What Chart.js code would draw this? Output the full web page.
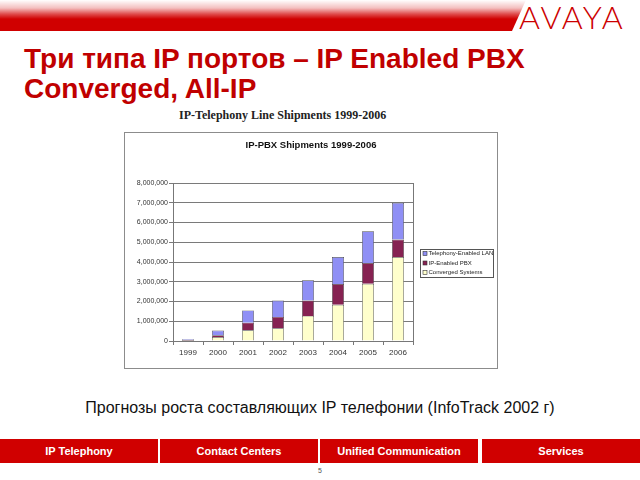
<!DOCTYPE html>
<html>
<head>
<meta charset="utf-8">
<script src="https://cdn.jsdelivr.net/npm/chart.js@4.4.0/dist/chart.umd.min.js"></script>
<style>
  html, body { margin: 0; padding: 0; background: #fff; }
  body { width: 640px; height: 480px; position: relative; overflow: hidden; font-family: "Liberation Sans", Arial, sans-serif; }
  .abs { position: absolute; white-space: nowrap; }
  #banner { left: 0; top: 0; width: 530px; height: 31px;
    background: linear-gradient(to bottom, rgba(210,0,0,0) 0px, rgba(210,0,0,0.25) 8px, rgba(210,0,0,0.7) 14px, #d00000 19px, #d00000 31px);
    clip-path: polygon(0 0, 526px 0, 512px 31px, 0 31px); }
  #logo { left: 519px; top: 1px; font-family: Lato, "Liberation Sans", sans-serif; font-weight: 300; font-size: 32px; line-height: 32px; color: #cc0000; letter-spacing: 2px; }
  #title { left: 24px; top: 44px; font-size: 28px; line-height: 30px; font-weight: bold; color: #c00000; }
  #outerTitle { left: 179px; top: 109px; font-family: "Liberation Serif", "Times New Roman", serif; font-weight: bold; font-size: 12px; line-height: 12px; color: #222; }
  #chartBox { left: 124px; top: 132px; width: 374px; height: 237px; box-sizing: border-box; border: 1px solid #8c8c8c; }
  #cv { position: absolute; left: 124px; top: 132px; }
  #caption { left: 0; width: 640px; text-align: center; top: 400px; font-size: 16px; line-height: 16px; color: #111; }
  .seg { top: 439px; height: 24px; width: 158px; background: #d00000; color: #fff; font-weight: bold; font-size: 11px; line-height: 24px; text-align: center; }
  #pnum { left: 0; width: 640px; text-align: center; top: 467px; font-size: 7px; line-height: 8px; color: #555; }
</style>
</head>
<body>
<div id="banner" class="abs"></div>
<div id="logo" class="abs">AVAYA</div>
<div id="title" class="abs">Три типа IP портов – IP Enabled PBX<br>Converged, All-IP</div>
<div id="outerTitle" class="abs">IP-Telephony Line Shipments 1999-2006</div>
<div id="chartBox" class="abs"></div>
<canvas id="cv" width="374" height="237"></canvas>
<div id="caption" class="abs">Прогнозы роста составляющих IP телефонии (InfoTrack 2002 г)</div>
<div class="abs seg" style="left:0px">IP Telephony</div>
<div class="abs seg" style="left:160px">Contact Centers</div>
<div class="abs seg" style="left:320px">Unified Communication</div>
<div class="abs seg" style="left:482px">Services</div>
<div id="pnum" class="abs">5</div>
<script>
// ---- data ----
const years = ['1999', '2000', '2001', '2002', '2003', '2004', '2005', '2006'];
const convergedSystems = [10000, 200000, 540000, 640000, 1270000, 1830000, 2900000, 4250000];
const ipEnabledPbx = [40000, 90000, 390000, 580000, 780000, 1050000, 1050000, 890000];
const telephonyEnabledLan = [40000, 240000, 620000, 830000, 1020000, 1370000, 1610000, 1860000];
const seriesLabels = ['Converged Systems', 'IP-Enabled PBX', 'Telephony-Enabled LAN'];
const seriesColors = ['#ffffcc', '#862252', '#8f8ff5'];
const yMax = 8000000;
const yStep = 1000000;
const chartTitle = 'IP-PBX Shipments 1999-2006';

const legendBoxPlugin = {
  id: 'legendBox',
  afterLayout(chart) {
    // center the title over the whole chart image, not just the plot area
    const tb = chart.titleBlock;
    if (tb) { tb.left = 0; tb.right = chart.width; tb.width = chart.width; }
  },
  afterDraw(chart) {
    const ctx = chart.ctx;
    const ds = chart.data.datasets;
    const x = 296.5, y = 117.5, w = 73, h = 28;
    ctx.save();
    ctx.strokeStyle = '#555';
    ctx.lineWidth = 1;
    ctx.strokeRect(x, y, w, h);
    ctx.font = '6px "Liberation Sans", Arial, sans-serif';
    ctx.textBaseline = 'middle';
    const rows = ds.slice().reverse();
    rows.forEach((d, i) => {
      const cy = 121.5 + i * 9.5;
      ctx.fillStyle = d.backgroundColor;
      ctx.fillRect(299, cy - 2, 4, 4);
      ctx.strokeStyle = '#333';
      ctx.lineWidth = 0.6;
      ctx.strokeRect(299, cy - 2, 4, 4);
      ctx.fillStyle = '#222';
      ctx.fillText(d.label, 304.5, cy);
    });
    // right border of plot area
    const a = chart.chartArea;
    ctx.strokeStyle = '#777';
    ctx.lineWidth = 1;
    ctx.beginPath();
    ctx.moveTo(Math.round(a.right) + 0.5, a.top);
    ctx.lineTo(Math.round(a.right) + 0.5, a.bottom);
    ctx.stroke();
    ctx.restore();
  }
};

new Chart(document.getElementById('cv'), {
  type: 'bar',
  data: {
    labels: years,
    datasets: [
      { label: seriesLabels[0], data: convergedSystems, backgroundColor: seriesColors[0] },
      { label: seriesLabels[1], data: ipEnabledPbx, backgroundColor: seriesColors[1] },
      { label: seriesLabels[2], data: telephonyEnabledLan, backgroundColor: seriesColors[2] }
    ].map(d => Object.assign(d, { borderColor: '#505050', borderWidth: 0.7, barPercentage: 0.4, categoryPercentage: 1.0 }))
  },
  options: {
    responsive: false,
    animation: false,
    devicePixelRatio: 1,
    layout: { padding: { top: 0, left: 0, right: 85, bottom: 0 } },
    plugins: {
      legend: { display: false },
      tooltip: { enabled: false },
      title: {
        display: true,
        text: chartTitle,
        color: '#111',
        font: { family: '"Liberation Sans", Arial, sans-serif', size: 9.5, weight: 'bold' },
        padding: { top: 8, bottom: 31.6 }
      }
    },
    scales: {
      x: {
        stacked: true,
        grid: { display: true, drawOnChartArea: false, tickLength: 4, color: '#777', offset: true },
        border: { color: '#777' },
        ticks: { color: '#333', padding: 3, maxRotation: 0, font: { family: '"Liberation Sans", Arial, sans-serif', size: 8 } },
        afterFit: s => { s.height = 28; }
      },
      y: {
        stacked: true,
        min: 0,
        max: yMax,
        grid: { color: '#7a7a7a', tickLength: 4 },
        border: { color: '#777' },
        ticks: {
          stepSize: yStep,
          color: '#333',
          padding: 1,
          font: { family: '"Liberation Sans", Arial, sans-serif', size: 7 },
          callback: v => Number(v).toLocaleString('en-US')
        },
        afterFit: s => { s.width = 49; }
      }
    }
  },
  plugins: [legendBoxPlugin]
});
</script>
</body>
</html>
